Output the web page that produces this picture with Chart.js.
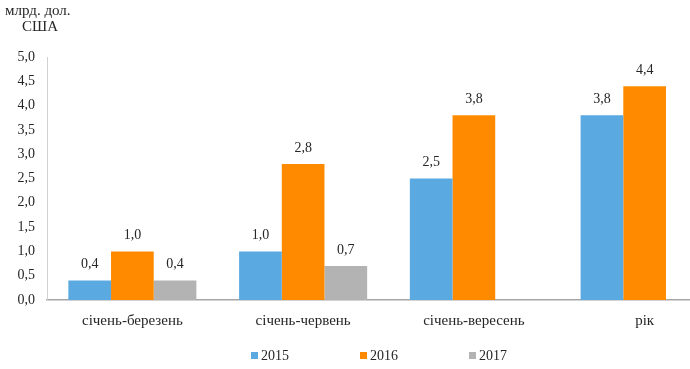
<!DOCTYPE html>
<html>
<head>
<meta charset="utf-8">
<script src="https://cdn.jsdelivr.net/npm/chart.js@4/dist/chart.umd.min.js"></script>
<style>
  html, body { margin: 0; padding: 0; background: #fff; overflow: hidden; }
  #wrap { width: 690px; height: 369px; overflow: hidden; }
  #box { width: 760px; height: 369px; }
</style>
</head>
<body>
<div id="wrap"><div id="box"><canvas id="myChart"></canvas></div></div>
<script>
var periods = ['січень-березень', 'січень-червень', 'січень-вересень', 'рік'];
var years = ['2015', '2016', '2017'];
var v2015 = [0.4, 1.0, 2.5, 3.8];
var v2016 = [1.0, 2.8, 3.8, 4.4];
var v2017 = [0.4, 0.7, null, null];
var colors = ['#5aa9e1', '#ff8a00', '#b3b3b3'];

var serif = '"Liberation Serif", "Times New Roman", serif';
var textColor = '#262626';

function fmt(v){
    return v.toFixed(1).replace('.', ',');
}

// подписи значений, заголовок оси и легенда
var extras = {
    id: 'extras',
    afterDatasetsDraw: function(chart){
        var ctx = chart.ctx;
        ctx.save();
        ctx.fillStyle = textColor;
        ctx.font = '14px ' + serif;
        ctx.textAlign = 'center';
        ctx.textBaseline = 'middle';
        chart.data.datasets.forEach(function(ds, i){
            var meta = chart.getDatasetMeta(i);
            meta.data.forEach(function(bar, j){
                if (ds.data[j] == null) return;
                ctx.fillText(fmt(ds.data[j]), bar.x, bar.y - 16);
            });
        });

        ctx.font = '15px ' + serif;
        ctx.textAlign = 'left';
        ctx.fillText('млрд. дол.', 5, 11);
        ctx.fillText('США', 22, 27);

        // легенда
        var step = 109;
        var start = chart.width / 2 - step - 20;
        ctx.font = '14px ' + serif;
        chart.data.datasets.forEach(function(ds, i){
            var x = start + i * step;
            ctx.fillStyle = ds.backgroundColor;
            ctx.fillRect(x, 352, 7, 7);
            ctx.fillStyle = textColor;
            ctx.fillText(ds.label, x + 10, 356);
        });
        ctx.restore();
    }
};

var ctx = document.getElementById('myChart').getContext('2d');
var chart = new Chart(ctx, {
    type: 'bar',
    data: {
        labels: periods,
        datasets: [{
            label: years[0],
            data: v2015,
            backgroundColor: colors[0]
        }, {
            label: years[1],
            data: v2016,
            backgroundColor: colors[1]
        }, {
            label: years[2],
            data: v2017,
            backgroundColor: colors[2]
        }]
    },
    options: {
        responsive: true,
        maintainAspectRatio: false,
        animation: false,
        layout: { padding: { top: 57, right: 30, left: 0, bottom: 0 } },
        datasets: { bar: { categoryPercentage: 0.75, barPercentage: 1.0 } },
        plugins: {
            legend: { display: false },
            tooltip: { enabled: false }
        },
        scales: {
            x: {
                grid: { display: false },
                border: { display: true, color: '#a6a6a6', width: 1.5 },
                ticks: { color: textColor, font: { family: serif, size: 15 }, padding: 4, maxRotation: 0 },
                afterFit: function(scale){ scale.height = 69; }
            },
            y: {
                min: 0,
                max: 5,
                grid: { display: false },
                border: { display: true, color: '#d0d0d0', width: 1 },
                ticks: {
                    stepSize: 0.5,
                    color: textColor,
                    font: { family: serif, size: 14 },
                    padding: 4,
                    callback: function(v){ return fmt(v); }
                },
                afterFit: function(scale){ scale.width = 47; }
            }
        }
    },
    plugins: [extras]
});
</script>
</body>
</html>
